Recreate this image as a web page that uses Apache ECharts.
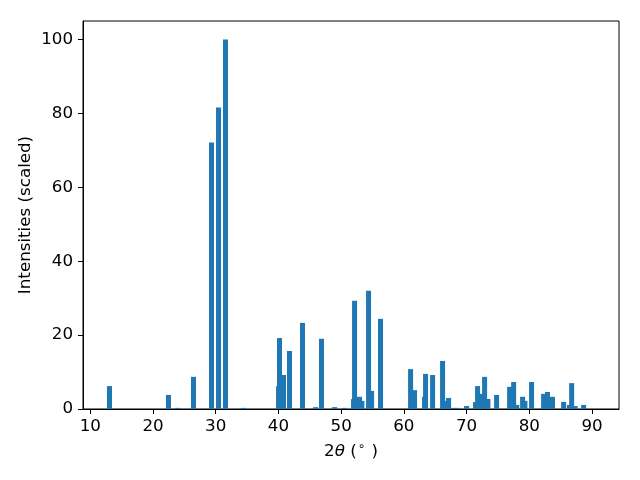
<!DOCTYPE html>
<html>
<head>
<meta charset="utf-8">
<script src="https://cdn.jsdelivr.net/npm/echarts@6/dist/echarts.min.js"></script>
<style>html,body{margin:0;padding:0;background:#fff}#c{width:640px;height:480px}</style>
</head>
<body>
<div id="c"></div>
<script>
const twoTheta = [13.06, 22.47, 23.9, 26.46, 29.33, 30.45, 31.56, 34.4, 40.02, 40.17, 40.81, 41.77, 43.84, 45.92, 46.87, 48.95, 50.54, 51.98, 52.14, 52.93, 53.3, 54.37, 54.85, 56.28, 61.07, 61.7, 63.3, 63.46, 64.58, 66.17, 66.6, 67.13, 67.93, 68.57, 70.0, 71.43, 71.75, 72.4, 72.87, 73.4, 74.78, 76.86, 77.5, 78.0, 78.93, 79.3, 80.36, 82.28, 82.9, 83.7, 85.47, 86.4, 86.75, 87.3, 88.66, 90.4];
const intensities = [6.2, 3.8, 0.3, 8.7, 72.1, 81.6, 100, 0.3, 6.2, 19.2, 9.2, 15.7, 23.3, 0.5, 19.0, 0.5, 0.3, 2.7, 29.3, 3.3, 2.2, 32.0, 4.9, 24.4, 10.8, 5.1, 3.3, 9.5, 9.2, 13.0, 2.2, 3.0, 0.3, 0.3, 0.8, 1.9, 6.2, 4.1, 8.7, 2.7, 3.8, 6.0, 7.3, 1.1, 3.3, 2.2, 7.3, 4.1, 4.6, 3.3, 1.9, 1.1, 7.0, 0.8, 1.1, 0];
const xTicks = [10, 20, 30, 40, 50, 60, 70, 80, 90];
const yTicks = [0, 20, 40, 60, 80, 100];
const barWidthUnits = 0.8;

const data = twoTheta.map((x, i) => [x, intensities[i]]);
const FONT = 'DejaVu Sans';
const FS = 16.7;
const chart = echarts.init(document.getElementById('c'), null, {renderer: 'canvas'});
chart.setOption({
  animation: false,
  backgroundColor: '#fff',
  grid: {left: 83, right: 21, top: 21, bottom: 71, show: true, borderColor: '#000', borderWidth: 1, backgroundColor: 'transparent'},
  xAxis: {
    type: 'value', min: 8.84, max: 94.3,
    splitLine: {show: false},
    axisLine: {show: true, onZero: false, lineStyle: {color: '#000', width: 1}},
    axisTick: {show: true, inside: false, length: 5, lineStyle: {color: '#000'}, customValues: xTicks},
    axisLabel: {color: '#000', fontFamily: FONT, fontSize: FS, margin: 9, customValues: xTicks},
    name: '{n|2}{i|θ}{n| (}{s|∘}{n| )}',
    nameLocation: 'middle', nameGap: 32, nameMoveOverlap: false,
    nameTextStyle: {
      rich: {
        n: {fontFamily: FONT, fontSize: FS, color: '#000'},
        i: {fontFamily: FONT, fontSize: FS, fontStyle: 'italic', color: '#000'},
        s: {fontFamily: FONT, fontSize: 12, color: '#000', verticalAlign: 'top', padding: [0, 1, 9, 1]}
      }
    }
  },
  yAxis: {
    type: 'value', min: 0, max: 105,
    splitLine: {show: false},
    axisLine: {show: true, lineStyle: {color: '#000', width: 1}},
    axisTick: {show: true, inside: false, length: 5, lineStyle: {color: '#000'}, customValues: yTicks},
    axisLabel: {color: '#000', fontFamily: FONT, fontSize: FS, margin: 10, customValues: yTicks},
    name: 'Intensities (scaled)',
    nameLocation: 'middle', nameGap: 49, nameMoveOverlap: false,
    nameTextStyle: {fontFamily: FONT, fontSize: FS, color: '#000'}
  },
  series: [{
    type: 'custom',
    data: data,
    renderItem: function (params, api) {
      const x = api.value(0), y = api.value(1);
      const p1 = api.coord([x - barWidthUnits / 2, y]);
      const p2 = api.coord([x + barWidthUnits / 2, 0]);
      return {
        type: 'rect',
        shape: {x: p1[0], y: p1[1], width: p2[0] - p1[0], height: p2[1] - p1[1]},
        style: {fill: '#1f77b4'}
      };
    },
    encode: {x: 0, y: 1}
  }]
});
</script>
</body>
</html>
